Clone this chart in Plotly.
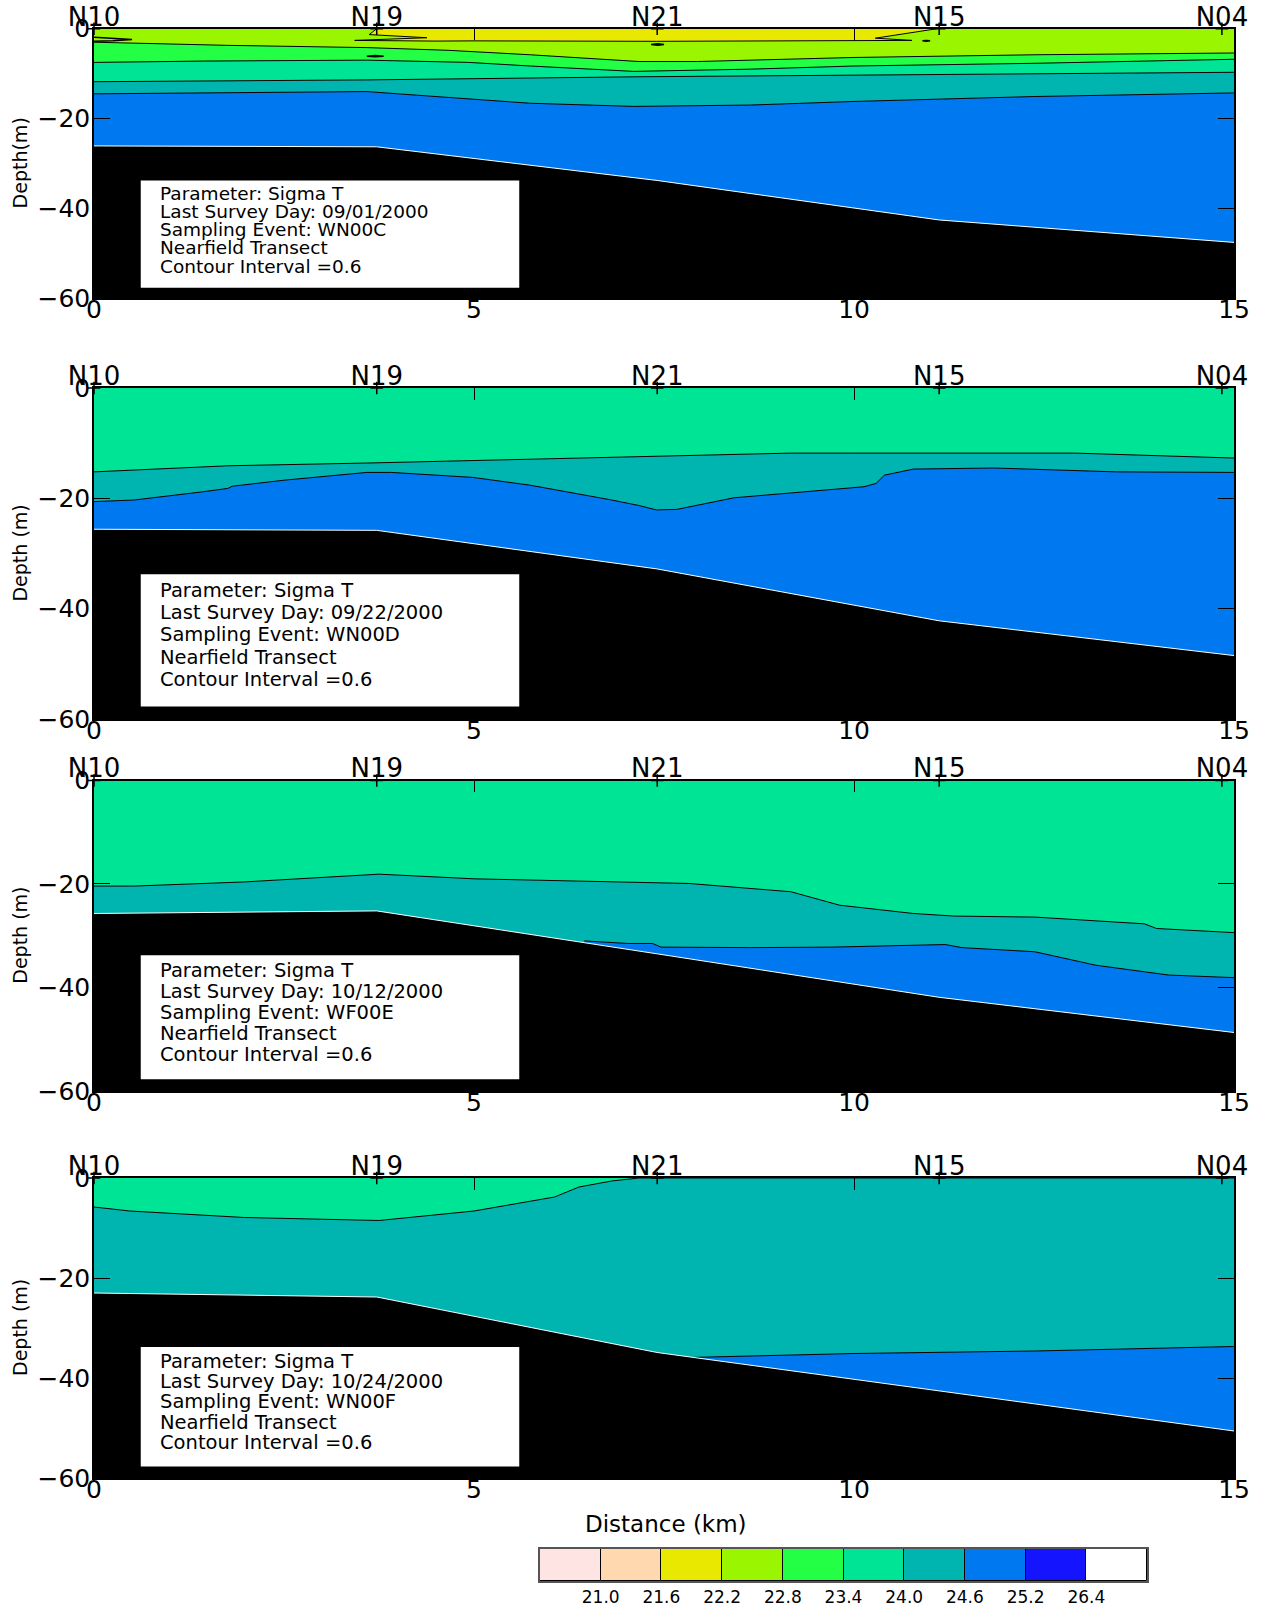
import plotly.graph_objects as go

# Sigma-T contour classes (interval 0.6) and the fill colour of each class
LEVELS = [21.0, 21.6, 22.2, 22.8, 23.4, 24.0, 24.6, 25.2, 26.4]
BAND_COLORS = ["#FFE4E4", "#FFD8B0", "#E8E800", "#99F500", "#22FF44",
               "#00E496", "#00B4B0", "#0078F0", "#1414FF", "#FFFFFF"]

# Nearfield transect stations
STATION_NAMES = ["N10", "N19", "N21", "N15", "N04"]
STATION_KM = [0.0, 3.72, 7.41, 11.12, 14.84]

# Sea surface and seabed along the transect
SURFACE_KM = [0.0, 15.0]
SURFACE_Z = [0.0, 0.0]
BOTTOM_KM = [0.0, 3.72, 7.41, 11.12, 15.0]

SURVEY_DAYS = ["09/01/2000", "09/22/2000", "10/12/2000", "10/24/2000"]
SURVEY_EVENTS = ["WN00C", "WN00D", "WF00E", "WN00F"]

# --- WN00C, 09/01/2000 ---
C_BOTTOM_Z = [-26.1, -26.3, -33.8, -42.6, -47.6]
# light surface lens (21.6-22.2), folded at both ends
C_LENS_KM = [3.72, 3.62, 4.38, 3.43, 4.5, 5.0, 7.4, 10.0, 10.76, 10.28, 11.09]
C_LENS_Z = [0.0, -1.3, -2.0, -2.6, -2.75, -2.7, -2.8, -2.6, -2.6, -2.1, 0.0]
C_228_KM = [0.0, 1.76, 3.59, 4.66, 5.74, 7.17, 7.94, 10.0, 12.38, 15.0]
C_228_Z = [-3.0, -3.7, -4.2, -4.8, -5.8, -7.3, -7.3, -6.4, -5.8, -5.4]
C_234_KM = [0.0, 1.44, 3.59, 4.93, 5.74, 7.1, 8.64, 10.0, 12.38, 15.0]
C_234_Z = [-7.5, -7.2, -7.0, -7.5, -8.3, -9.5, -9.0, -8.3, -7.7, -6.8]
C_240_KM = [0.0, 3.59, 7.17, 10.0, 12.38, 15.0]
C_240_Z = [-11.8, -11.4, -10.7, -10.3, -10.0, -9.7]
C_246_KM = [0.0, 1.98, 3.59, 4.66, 5.74, 7.1, 8.64, 10.0, 12.38, 15.0]
C_246_Z = [-14.5, -14.2, -14.0, -15.3, -16.6, -17.3, -17.0, -16.2, -15.1, -14.3]
# small closed isolines
C_LOOP_N10_KM = [0.0, 0.25, 0.5, 0.25, 0.0]
C_LOOP_N10_Z = [-1.9, -2.1, -2.4, -2.7, -2.8]
C_LOOP_N19_KM = [3.59, 3.70, 3.81, 3.70, 3.59]
C_LOOP_N19_Z = [-6.1, -5.95, -6.1, -6.25, -6.1]
C_LOOP_N21_KM = [7.33, 7.42, 7.50, 7.42, 7.33]
C_LOOP_N21_Z = [-3.5, -3.35, -3.5, -3.65, -3.5]
C_LOOP_N15_KM = [10.90, 10.95, 11.00, 10.95, 10.90]
C_LOOP_N15_Z = [-2.7, -2.6, -2.7, -2.8, -2.7]

# --- WN00D, 09/22/2000 ---
D_BOTTOM_Z = [-25.6, -25.8, -32.8, -42.2, -48.5]
D_240_KM = [0.0, 1.76, 3.59, 7.17, 9.17, 10.0, 12.38, 12.91, 15.0]
D_240_Z = [-15.2, -14.1, -13.6, -12.4, -11.8, -11.8, -11.9, -11.8, -12.7]
D_246_KM = [0.0, 0.53, 1.44, 1.76, 1.82, 2.51, 3.59, 3.91, 4.98, 5.73, 6.81,
            7.17, 7.4, 7.67, 8.42, 10.13, 10.29, 10.4, 10.78, 11.84, 13.45, 15.0]
D_246_Z = [-20.6, -20.3, -18.8, -18.2, -17.8, -16.7, -15.3, -15.3, -16.2, -17.6, -20.3,
           -21.3, -22.1, -22.0, -19.9, -17.9, -17.3, -15.8, -14.7, -14.5, -15.2, -15.3]

# --- WF00E, 10/12/2000 ---
E_BOTTOM_Z = [-25.7, -25.2, -33.5, -41.9, -48.7]
E_240_KM = [0.0, 0.53, 1.98, 3.75, 5.0, 7.1, 7.83, 9.17, 9.81, 10.78, 11.31, 12.38, 13.82, 13.98, 15.0]
E_240_Z = [-20.4, -20.4, -19.6, -18.1, -19.0, -19.7, -19.9, -21.5, -24.1, -25.7, -26.2, -26.4, -27.7, -28.6, -29.4]
E_246_KM = [6.45, 7.03, 7.35, 7.46, 8.64, 9.71, 11.2, 11.42, 12.38, 13.18, 14.14, 15.0]
E_246_Z = [-31.0, -31.5, -31.5, -32.2, -32.3, -32.2, -31.7, -32.3, -33.1, -35.7, -37.6, -38.1]

# --- WN00F, 10/24/2000 ---
F_BOTTOM_Z = [-23.0, -23.8, -34.9, -42.6, -50.6]
F_240_KM = [0.0, 0.47, 1.98, 3.75, 5.0, 5.9, 6.06, 6.38, 6.81, 7.17, 15.0]
F_240_Z = [-5.8, -6.6, -7.9, -8.5, -6.6, -4.3, -3.8, -1.8, -0.6, 0.0, 0.0]
F_246_KM = [7.83, 10.0, 12.38, 15.0]
F_246_Z = [-35.9, -35.1, -34.6, -33.7]

X_RANGE = [0, 15]
Z_RANGE = [-60, 0]
FONT = "DejaVu Sans"

panels = [
    dict(bottom=C_BOTTOM_Z, surface_band=3, lens=(C_LENS_KM, C_LENS_Z, 2),
         lines=[(22.8, C_228_KM, C_228_Z), (23.4, C_234_KM, C_234_Z),
                (24.0, C_240_KM, C_240_Z), (24.6, C_246_KM, C_246_Z)],
         loops=[(C_LOOP_N10_KM, C_LOOP_N10_Z), (C_LOOP_N19_KM, C_LOOP_N19_Z),
                (C_LOOP_N21_KM, C_LOOP_N21_Z), (C_LOOP_N15_KM, C_LOOP_N15_Z)],
         ylabel="Depth(m)"),
    dict(bottom=D_BOTTOM_Z, surface_band=5, lens=None, loops=[],
         lines=[(24.0, D_240_KM, D_240_Z), (24.6, D_246_KM, D_246_Z)],
         ylabel="Depth (m)"),
    dict(bottom=E_BOTTOM_Z, surface_band=5, lens=None, loops=[],
         lines=[(24.0, E_240_KM, E_240_Z), (24.6, E_246_KM, E_246_Z)],
         ylabel="Depth (m)"),
    dict(bottom=F_BOTTOM_Z, surface_band=5, lens=None, loops=[],
         lines=[(24.0, F_240_KM, F_240_Z), (24.6, F_246_KM, F_246_Z)],
         ylabel="Depth (m)"),
]

X_DOMAIN = [0.0742, 0.974]
Y_DOMAINS = [[0.8144, 0.9821], [0.5523, 0.7584], [0.3207, 0.5140], [0.0797, 0.2665]]


def below(km, z):
    """Polygon covering everything under a boundary down to the axis floor."""
    return list(km) + [km[-1], km[0]], list(z) + [Z_RANGE[0], Z_RANGE[0]]


fig = go.Figure()
layout = dict(
    width=1267, height=1606, autosize=False,
    margin=dict(l=0, r=0, t=0, b=0, pad=0),
    paper_bgcolor="white", plot_bgcolor="white",
    showlegend=False, bargap=0,
    font=dict(family=FONT, color="black"),
    annotations=[], shapes=[],
)

for i, p in enumerate(panels):
    n = i + 1
    xa = "x" if n == 1 else f"x{n}"
    ya = "y" if n == 1 else f"y{n}"
    xtop = f"x{n + 4}"

    def fill(km, z, band, closed=False):
        if closed:
            xs, zs = list(km), list(z)
        else:
            xs, zs = below(km, z)
        fig.add_trace(go.Scatter(x=xs, y=zs, fill="toself", mode="lines",
                                 fillcolor=BAND_COLORS[band], line=dict(width=0),
                                 hoverinfo="skip", xaxis=xa, yaxis=ya))

    def isoline(km, z, width=1):
        fig.add_trace(go.Scatter(x=km, y=z, mode="lines",
                                 line=dict(color="black", width=width),
                                 hoverinfo="skip", xaxis=xa, yaxis=ya))

    # water column bands, lightest on top
    fill(SURFACE_KM, SURFACE_Z, p["surface_band"])
    if p["lens"]:
        lk, lz, lb = p["lens"]
        fill(lk, lz, lb, closed=True)
    for level, km, z in p["lines"]:
        fill(km, z, LEVELS.index(level) + 1)

    # isopycnal lines
    if p["lens"]:
        isoline(p["lens"][0], p["lens"][1])
    for level, km, z in p["lines"]:
        isoline(km, z)
    for km, z in p["loops"]:
        isoline(km, z, width=1.5)

    # seabed
    bx, bz = below(BOTTOM_KM, p["bottom"])
    fig.add_trace(go.Scatter(x=bx, y=bz, fill="toself", mode="lines",
                             fillcolor="black", line=dict(width=0),
                             hoverinfo="skip", xaxis=xa, yaxis=ya))
    fig.add_trace(go.Scatter(x=BOTTOM_KM, y=p["bottom"], mode="lines",
                             line=dict(color="white", width=1),
                             hoverinfo="skip", xaxis=xa, yaxis=ya))

    # station markers along the surface
    fig.add_trace(go.Scatter(x=STATION_KM, y=[0] * len(STATION_KM), mode="markers",
                             marker=dict(symbol="cross-thin", size=9,
                                         line=dict(color="black", width=1.5)),
                             cliponaxis=False, hoverinfo="skip",
                             xaxis=xtop, yaxis=ya))

    layout["xaxis" if n == 1 else f"xaxis{n}"] = dict(
        domain=X_DOMAIN, anchor=ya, range=X_RANGE, automargin=False,
        tickvals=[0, 5, 10, 15], ticks="inside", ticklen=12, tickwidth=1,
        tickcolor="black", mirror="ticks", showline=True, linecolor="black",
        linewidth=1.5, showgrid=False, zeroline=False,
        tickfont=dict(size=25), ticklabelstandoff=-12,
    )
    layout["yaxis" if n == 1 else f"yaxis{n}"] = dict(
        domain=Y_DOMAINS[i], anchor=xa, range=Z_RANGE, automargin=False,
        tickvals=[0, -20, -40, -60], ticks="inside", ticklen=16, tickwidth=1,
        tickcolor="black", mirror="ticks", showline=True, linecolor="black",
        linewidth=1.5, showgrid=False, zeroline=False,
        tickfont=dict(size=25), ticklabelstandoff=-3,
    )
    layout[f"xaxis{n + 4}"] = dict(
        overlaying=xa, side="top", anchor=ya, domain=X_DOMAIN, range=X_RANGE,
        automargin=False, tickvals=STATION_KM, ticktext=STATION_NAMES, ticks="",
        showline=False, showgrid=False, zeroline=False,
        tickfont=dict(size=26), ticklabelstandoff=-3,
    )

    # axis title
    layout["annotations"].append(dict(
        text=p["ylabel"], textangle=-90, xref="paper", yref=f"{ya} domain",
        x=20 / 1267, y=0.5, xanchor="center", yanchor="middle",
        showarrow=False, font=dict(size=19)))

    # survey information box
    layout["shapes"].append(dict(
        type="rect", xref=f"{xa} domain", yref=f"{ya} domain",
        x0=0.041, x1=0.373, y0=0.038, y1=0.437,
        fillcolor="white", line=dict(width=0), layer="above"))
    info = ["Parameter: Sigma T",
            f"Last Survey Day: {SURVEY_DAYS[i]}",
            f"Sampling Event: {SURVEY_EVENTS[i]}",
            "Nearfield Transect",
            "Contour Interval =0.6"]
    for k, line in enumerate(info):
        layout["annotations"].append(dict(
            text=line, xref=f"{xa} domain", yref=f"{ya} domain",
            x=0.0559, y=0.389 - 0.0675 * k, xanchor="left", yanchor="middle",
            showarrow=False, font=dict(size=19.5 if n > 1 else 18.5)))

layout["annotations"].append(dict(
    text="Distance (km)", xref="paper", yref="paper",
    x=666 / 1267, y=1 - 1524 / 1606, xanchor="center", yanchor="middle",
    showarrow=False, font=dict(size=23)))

# colour key
fig.add_trace(go.Bar(x=list(range(len(BAND_COLORS))), y=[1] * len(BAND_COLORS),
                     width=1, marker=dict(color=BAND_COLORS,
                                          line=dict(color="black", width=1)),
                     hoverinfo="skip", xaxis="x9", yaxis="y9"))
layout["xaxis9"] = dict(
    domain=[540 / 1267, 1147 / 1267], anchor="y9", range=[-0.5, len(BAND_COLORS) - 0.5],
    automargin=False, tickvals=[k + 0.5 for k in range(len(LEVELS))],
    ticktext=[f"{v:.1f}" for v in LEVELS], ticks="",
    showline=True, mirror=True, linecolor="#555555", linewidth=1.5,
    showgrid=False, zeroline=False, tickfont=dict(size=17), fixedrange=True,
)
layout["yaxis9"] = dict(
    domain=[1 - 1581 / 1606, 1 - 1549 / 1606], anchor="x9", range=[0, 1],
    automargin=False, showticklabels=False, ticks="", showline=True, mirror=True,
    linecolor="#555555", linewidth=1.5, showgrid=False, zeroline=False,
)

fig.update_layout(**layout)
fig.write_html("out.html")
